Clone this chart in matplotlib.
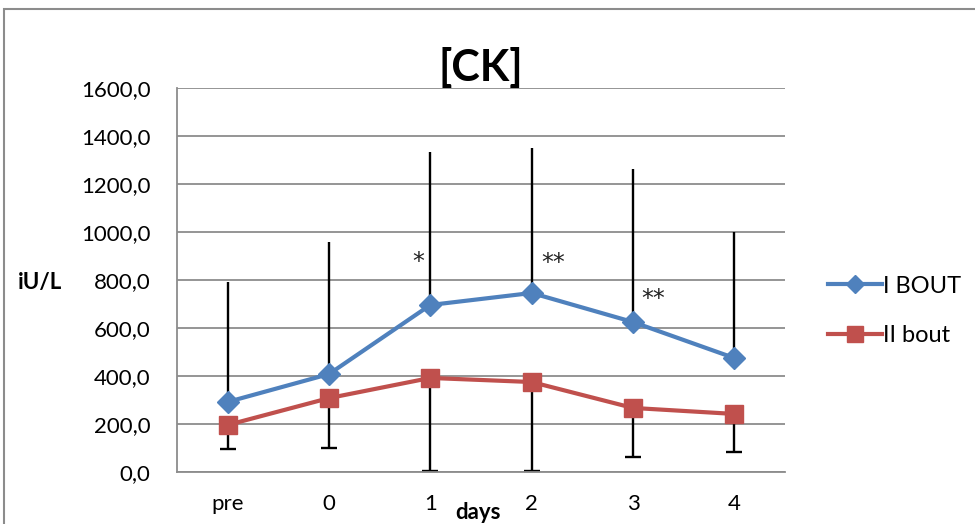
import numpy as np
import matplotlib.pyplot as plt
from matplotlib.patches import Rectangle
from matplotlib.ticker import FuncFormatter

plt.rcParams['font.family'] = ['Lato', 'DejaVu Sans']

days = ['pre', '0', '1', '2', '3', '4']
bout1 = [292, 408, 696, 746, 625, 475]
bout1_err = [500, 550, 637, 604, 638, 525]
bout2 = [196, 308, 392, 375, 267, 242]
bout2_err = [100, 208, 388, 371, 205, 159]

stars = ['*', '**', '**']
star_day = [2, 3, 4]
star_dx = [-0.12, 0.21, 0.2]
star_y = [875, 871, 720]

blue = '#4F81BD'
red = '#C0504D'
grid_c = '#8C8C8C'

fig = plt.figure(figsize=(9.75, 5.24), dpi=100)
ax = fig.add_axes([0.1815, 0.0992, 0.6236, 0.7328])

x = np.arange(len(days))

# error bars: upward for bout I, downward (capped) for bout II
ax.errorbar(x, bout1, yerr=[np.zeros(len(x)), bout1_err], fmt='none',
            ecolor='black', elinewidth=1.7, capsize=0, zorder=2)
ax.errorbar(x, bout2, yerr=[bout2_err, np.zeros(len(x))], fmt='none',
            ecolor='black', elinewidth=1.7, capsize=6, capthick=1.7, zorder=2)

ax.plot(x, bout1, color=blue, lw=3, marker='D', ms=11, label='I BOUT', zorder=3)
ax.plot(x, bout2, color=red, lw=3, marker='s', ms=13, label='II bout', zorder=3)

for s, d, dx, sy in zip(stars, star_day, star_dx, star_y):
    ax.text(d + dx, sy, s, ha='center', va='center', fontsize=17,
            family='DejaVu Sans', color='#222222')

ax.set_xlim(-0.5, len(days) - 0.5)
ax.set_ylim(0, 1600)
ax.set_yticks(np.arange(0, 1601, 200))
ax.yaxis.set_major_formatter(FuncFormatter(lambda v, p: f'{v:.1f}'.replace('.', ',')))
ax.set_xticks(x)
ax.set_xticklabels(days)
ax.tick_params(length=0, labelsize=16)
ax.tick_params(axis='x', pad=16)
ax.tick_params(axis='y', pad=19)

ax.grid(axis='y', color=grid_c, lw=1.3)
ax.set_axisbelow(True)
for side in ['top', 'right']:
    ax.spines[side].set_visible(False)
for side in ['left', 'bottom']:
    ax.spines[side].set_color(grid_c)
    ax.spines[side].set_linewidth(1.3)

ax.set_title('[CK]', fontsize=31, fontweight='bold', pad=2)
fig.text(0.018, 0.46, 'iU/L', fontsize=16, fontweight='bold', va='center')
fig.text(0.49, 0.022, 'days', fontsize=16, fontweight='bold', ha='center', va='center')

ax.legend(loc='center left', bbox_to_anchor=(1.035, 0.42), frameon=False,
          fontsize=17, labelspacing=1.2, handlelength=2.3, handletextpad=0.05,
          markerscale=0.85)

fig.patches.append(Rectangle((4 / 975, -0.1), 1.1, 1.1 - 9 / 524,
                             transform=fig.transFigure, fill=False,
                             edgecolor='#8C8C8C', lw=1.5))

fig.savefig('out.png', dpi=100)
